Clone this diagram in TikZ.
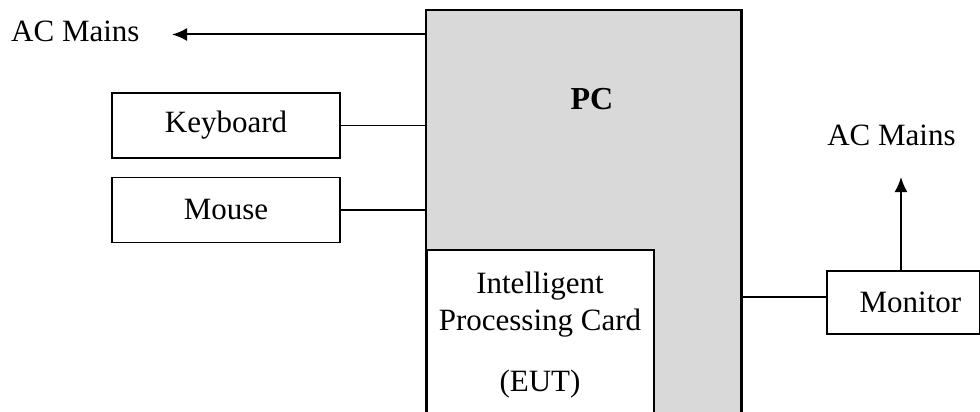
\documentclass[tikz,border=0pt]{standalone}
\usepackage{fontspec}
\setmainfont{Liberation Serif}
\usetikzlibrary{arrows.meta}
\definecolor{pcgray}{HTML}{D9D9D9}
\begin{document}
\begin{tikzpicture}[x=1pt,y=-1pt,
  txt/.style={inner sep=0pt,font=\fontsize{31}{36}\selectfont},
  devbox/.style={draw,line width=1.9pt,fill=white,inner sep=0pt,
    minimum width=228pt,minimum height=65pt,font=\fontsize{31}{36}\selectfont},
  pcbox/.style={fill=pcgray,inner sep=0pt},
  pcedge/.style={line width=2.8pt},
  cardbox/.style={draw,line width=1.9pt,fill=white,inner sep=0pt},
  wire/.style={line width=1.8pt},
  feed/.style={line width=2pt,-{Latex[length=15pt,width=13pt]}}
]
\useasboundingbox (0,0) rectangle (980,412);
\clip (0,0) rectangle (980,412);

% PC enclosure with the plug-in card in its lower left corner
\node[pcbox,anchor=north west,minimum width=315pt,minimum height=420pt] (pc) at (426,10) {};
\node[cardbox,anchor=north west,minimum width=227pt,minimum height=200pt] (card) at (426,249) {};
\draw[pcedge] (pc.south west) rectangle (pc.north east);
\node[font=\bfseries\fontsize{32}{36}\selectfont,inner sep=0pt,anchor=base] (pclabel) at (592,110) {PC};

% card text
\node[txt,anchor=base] (cardl1) at (540,293) {Intelligent};
\node[txt,anchor=base] (cardl2) at (540,330) {Processing Card};
\node[txt,anchor=base] (cardl3) at (540,391) {(EUT)};

% peripherals
\node[devbox] (kb) at (226,125.5) {Keyboard};
\node[devbox] (mouse) at (226,210) {Mouse};
\node[devbox,anchor=north west,minimum width=153pt,minimum height=63pt] (mon) at (826,270) {\hspace*{14pt}Monitor};

\draw[wire] (kb.east) -- (kb.east -| pc.west);
\draw[wire] (mouse.east) -- (mouse.east -| pc.west);
\coordinate (monin) at (826,297);
\draw[wire] (monin -| pc.east) -- (monin);

% mains feeds
\node[txt,anchor=base west] (acl) at (11,42) {AC Mains};
\coordinate (pcout) at (426,34.5);
\coordinate (tipL) at (172,34.5);
\draw[feed] (pcout) -- (tipL);

\node[txt,anchor=base] (acr) at (891.5,145) {AC Mains};
\coordinate (tipR) at (901,177);
\draw[feed] (mon.north -| tipR) -- (tipR);
\end{tikzpicture}
\end{document}
